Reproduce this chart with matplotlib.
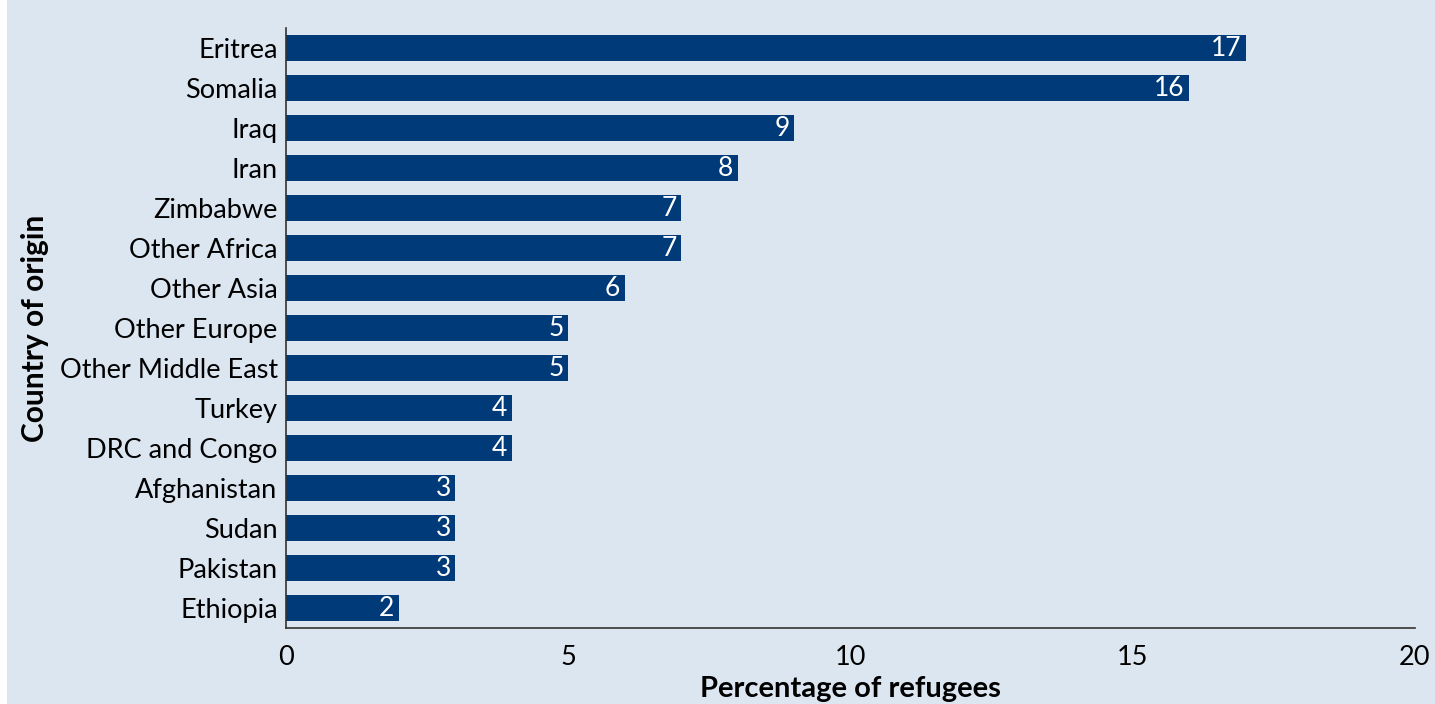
import matplotlib
matplotlib.use("Agg")
import matplotlib.pyplot as plt
from matplotlib.patches import Rectangle

countries = ["Eritrea", "Somalia", "Iraq", "Iran", "Zimbabwe", "Other Africa",
             "Other Asia", "Other Europe", "Other Middle East", "Turkey",
             "DRC and Congo", "Afghanistan", "Sudan", "Pakistan", "Ethiopia"]
percent = [17, 16, 9, 8, 7, 7, 6, 5, 5, 4, 4, 3, 3, 3, 2]
xticks = [0, 5, 10, 15, 20]

plt.rcParams['font.family'] = ['Lato', 'DejaVu Sans']

BG = "#dce6f1"
BAR = "#003a78"

fig = plt.figure(figsize=(14.35, 7.04), dpi=100, facecolor="white")
fig.patches.append(Rectangle((7/1435, 0), 1, 1, transform=fig.transFigure,
                             facecolor=BG, edgecolor="none", zorder=-10))
ax = fig.add_axes([286/1435, 1 - 628/704, (1415 - 286)/1435, (628 - 28)/704])
ax.set_facecolor(BG)
ax.patch.set_alpha(0)

y = list(range(len(countries)))
ax.barh(y, percent, height=0.65, color=BAR)
for yi, v in zip(y, percent):
    ax.text(v - 0.08, yi, str(v), color="white", ha="right", va="center", fontsize=19)

ax.set_ylim(len(countries) - 0.5, -0.5)
ax.set_xlim(0, 20)
ax.set_yticks(y)
ax.set_yticklabels(countries, fontsize=19.5)
ax.set_xticks(xticks)
ax.set_xticklabels([str(t) for t in xticks], fontsize=19.5)
ax.tick_params(axis="y", length=0, pad=6)
ax.tick_params(axis="x", length=0, pad=12)
for s in ["top", "right"]:
    ax.spines[s].set_visible(False)
for s in ["left", "bottom"]:
    ax.spines[s].set_color("#333333")
    ax.spines[s].set_linewidth(1.2)

ax.set_xlabel("Percentage of refugees", fontsize=21, fontweight="bold")
ax.xaxis.set_label_coords(0.5, -61/600)
ax.xaxis.label.set_va("center")
ax.set_ylabel("Country of origin", fontsize=21.5, fontweight="bold")
ax.yaxis.set_label_coords(-251/1129, 0.5)
ax.yaxis.label.set_va("center")

fig.savefig("out.png", dpi=100, facecolor="white")
